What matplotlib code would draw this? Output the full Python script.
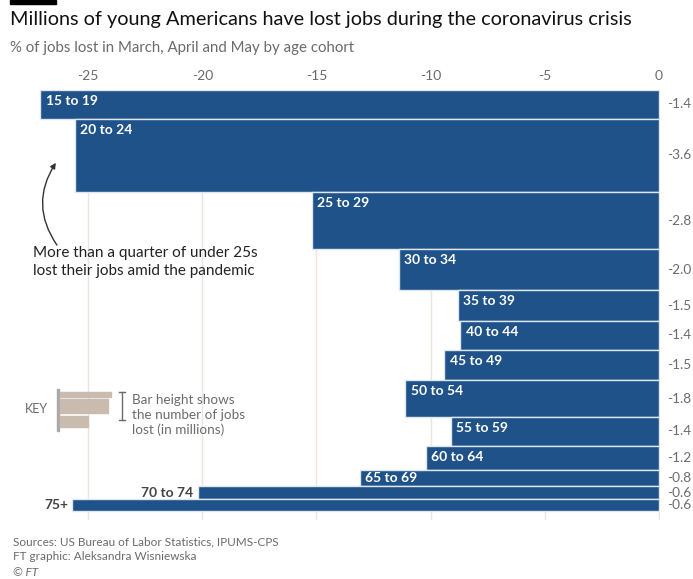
import matplotlib.pyplot as plt
from matplotlib.patches import Rectangle
import numpy as np

plt.rcParams['font.family'] = ['Lato', 'DejaVu Sans']

# data
ages = ['15 to 19', '20 to 24', '25 to 29', '30 to 34', '35 to 39', '40 to 44',
        '45 to 49', '50 to 54', '55 to 59', '60 to 64', '65 to 69', '70 to 74', '75+']
pct_lost = [-27.1, -25.6, -15.2, -11.4, -8.8, -8.7, -9.4, -11.1, -9.1, -10.2, -13.1, -20.2, -25.7]
jobs_lost = [1.4, 3.6, 2.8, 2.0, 1.5, 1.4, 1.5, 1.8, 1.4, 1.2, 0.8, 0.6, 0.6]
xticks = [-25, -20, -15, -10, -5, 0]

W, H = 693, 579
BLUE = '#1f5289'
GREY = '#6b6b6b'

fig = plt.figure(figsize=(W / 100, H / 100), dpi=100)

def fx(px):
    return px / W

def fy(py):
    return 1 - py / H

# axes: x from px 30 to 660, y from px 90 to 520
ax = fig.add_axes([fx(30), fy(520), fx(630), (520 - 90) / H])
ax.set_xlim(-27.55, 0.05)
ax.set_ylim(21.04, 0)

heights = np.array(jobs_lost)
tops = np.concatenate([[0], np.cumsum(heights)[:-1]])
centers = tops + heights / 2

for x in xticks:
    ax.axvline(x, color='#efe4dc', lw=1, zorder=0)

ax.barh(centers, pct_lost, height=heights, color=BLUE, edgecolor='#dfe6ee',
        linewidth=1.0, zorder=2)

px_per_m = 20.44
for age, p, h, t, c in zip(ages, pct_lost, heights, tops, centers):
    if h < 0.7:
        ax.annotate(age, xy=(p, c), xytext=(-3, 0), textcoords='offset points',
                    ha='right', va='center', fontsize=10, color='#444444',
                    fontweight='bold')
    else:
        off = min(h * px_per_m / 2, 11) * 0.72
        ax.annotate(age, xy=(p, t), xytext=(3.8, -off), textcoords='offset points',
                    ha='left', va='center', fontsize=10, color='white',
                    fontweight='bold')
    ax.annotate(f'{-h:.1f}', xy=(0, c), xytext=(6, 0), textcoords='offset points',
                ha='left', va='center', fontsize=9.8, color=GREY, annotation_clip=False)

ax.xaxis.tick_top()
ax.set_xticks(xticks)
ax.set_xticklabels([str(x) for x in xticks])
ax.tick_params(axis='x', length=0, pad=6, labelsize=10, labelcolor=GREY)
ax.set_yticks([])
for s in ax.spines.values():
    s.set_visible(False)
ax.patch.set_alpha(0)

# annotation with curved arrow
ax.annotate('', xy=(-26.35, 3.45), xytext=(-26.3, 7.7),
            arrowprops=dict(arrowstyle='-|>', color='#333333', lw=1,
                            mutation_scale=8,
                            connectionstyle='arc3,rad=-0.35'))
fig.text(fx(33), fy(262), 'More than a quarter of under 25s\nlost their jobs amid the pandemic',
         fontsize=11, color='#222222', va='center', ha='left', linespacing=1.45)

# key
fig.text(fx(25), fy(409), 'KEY', fontsize=9, color=GREY, va='center')
fig.add_artist(Rectangle((fx(57), fy(431)), fx(2), (431 - 389) / H, color='#a9a9a9',
                         transform=fig.transFigure))
for (x0, x1, y0, y1) in [(60, 111, 392, 397), (60, 108, 399, 413), (60, 88, 416, 427)]:
    fig.add_artist(Rectangle((fx(x0), fy(y1)), fx(x1 - x0), (y1 - y0) / H,
                             color='#c9bcae', transform=fig.transFigure))
fig.add_artist(plt.Line2D([fx(122), fx(122)], [fy(392), fy(420)], color=GREY, lw=1,
                          transform=fig.transFigure))
for yy in (392, 420):
    fig.add_artist(plt.Line2D([fx(119), fx(125)], [fy(yy), fy(yy)], color=GREY, lw=1,
                              transform=fig.transFigure))
fig.text(fx(132), fy(415), 'Bar height shows\nthe number of jobs\nlost (in millions)',
         fontsize=9.7, color=GREY, va='center', ha='left', linespacing=1.3)

# title block
fig.add_artist(Rectangle((fx(10), fy(4)), fx(46), 4 / H, color='black',
                         transform=fig.transFigure))
fig.text(fx(10), fy(19), 'Millions of young Americans have lost jobs during the coronavirus crisis',
         fontsize=14.3, color='#111111', va='center', ha='left')
fig.text(fx(10), fy(48), '% of jobs lost in March, April and May by age cohort',
         fontsize=10.8, color=GREY, va='center', ha='left')

fig.text(fx(13), fy(542), 'Sources: US Bureau of Labor Statistics, IPUMS-CPS',
         fontsize=8.5, color=GREY, va='center')
fig.text(fx(13), fy(557), 'FT graphic: Aleksandra Wisniewska',
         fontsize=8.5, color=GREY, va='center')
fig.text(fx(13), fy(572), '© FT', fontsize=8.5, color=GREY, va='center', style='italic')

fig.savefig('out.png', dpi=100)
